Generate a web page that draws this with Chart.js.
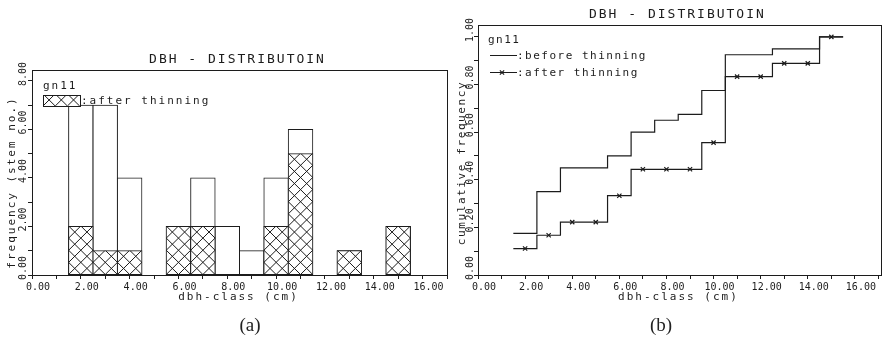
<!DOCTYPE html>
<html>
<head>
<meta charset="utf-8">
<title>DBH distribution</title>
<script src="https://cdn.jsdelivr.net/npm/chart.js@4.4.1/dist/chart.umd.min.js"></script>
<style>
  body { margin: 0; background: #fff; }
  #wrap { position: relative; width: 886px; height: 339px; }
  canvas { position: absolute; top: 0; }
  #chartA { left: 0; }
  #chartB { left: 443px; }
  .cap { position: absolute; top: 314px; font: 19px "Liberation Serif", serif; color: #222; transform: translateX(-50%); }
</style>
</head>
<body>
<div id="wrap">
  <canvas id="chartA" width="450" height="339"></canvas>
  <canvas id="chartB" width="443" height="339"></canvas>
  <div class="cap" style="left:250px">(a)</div>
  <div class="cap" style="left:661px">(b)</div>
</div>
<script>
// dbh classes (cm) and number of stems per class
const classes     = [2, 3, 4, 5, 6, 7, 8, 9, 10, 11, 12, 13, 14, 15];
const stemsBefore = [7, 7, 4, 0, 2, 4, 2, 1, 4, 6, 0, 1, 0, 2];
const stemsAfter  = [2, 1, 1, 0, 2, 2, 0, 0, 2, 5, 0, 1, 0, 2];
// cumulative frequency reached at the end of each class
const cumBefore = [0.175, 0.35, 0.45, 0.45, 0.50, 0.60, 0.65, 0.675, 0.775, 0.925, 0.925, 0.95, 0.95, 1.00];
const cumAfter  = [0.111, 0.167, 0.222, 0.222, 0.333, 0.444, 0.444, 0.444, 0.556, 0.833, 0.833, 0.889, 0.889, 1.00];
// ticks that carry a label
const xLabels  = [0, 2, 4, 6, 8, 10, 12, 14, 16];
const yLabelsA = [0, 2, 4, 6, 8];
const yLabelsB = [0, 0.2, 0.4, 0.6, 0.8, 1.0];

const INK = '#1c1c1c';
const MONO = '"DejaVu Sans Mono", monospace';
Chart.defaults.font.family = MONO;
Chart.defaults.color = INK;

function scaleOpts(max, step, labels, size, isY, pad) {
  return {
    type: 'linear', min: 0, max: max, offset: false,
    border: { display: false },
    grid: { drawOnChartArea: false, offset: false, tickLength: 4, color: INK, tickWidth: 1 },
    ticks: Object.assign({
      stepSize: step, autoSkip: false, includeBounds: false, color: INK, font: { size: 10 },
      callback: v => labels.some(l => Math.abs(l - v) < 1e-6) ? v.toFixed(2) : ''
    }, isY
      ? { minRotation: 90, maxRotation: 90, crossAlign: 'center', padding: pad, labelOffset: -7 }
      : { maxRotation: 0, padding: pad, labelOffset: 6 }),
    afterBuildTicks: s => {
      s.ticks = s.ticks.filter(t => Math.abs(t.value / step - Math.round(t.value / step)) < 1e-6);
    },
    afterFit: s => { if (isY) s.width = size; else s.height = size; }
  };
}

// cross hatching with the diamond size tied to half a unit on each axis
function hatch(ctx, left, top, right, bottom, pw, ph) {
  const rows = Math.ceil((bottom - top) / ph);
  const cols = Math.ceil((right - left) / pw);
  ctx.save();
  ctx.beginPath();
  ctx.rect(left, top, right - left, bottom - top);
  ctx.clip();
  ctx.beginPath();
  for (let k = -rows; k <= cols + rows; k++) {
    const x = left + k * pw;
    ctx.moveTo(x, bottom); ctx.lineTo(x + rows * pw, bottom - rows * ph);
    ctx.moveTo(x, bottom); ctx.lineTo(x - rows * pw, bottom - rows * ph);
  }
  ctx.strokeStyle = INK;
  ctx.lineWidth = 1;
  ctx.stroke();
  ctx.restore();
}

function halfUnits(chart) {
  const { x, y } = chart.scales;
  return [x.getPixelForValue(0.5) - x.getPixelForValue(0), y.getPixelForValue(0) - y.getPixelForValue(0.5)];
}

function crossMark(ctx, x, y, r) {
  const d = r * Math.SQRT1_2;
  ctx.beginPath();
  ctx.moveTo(x - d, y - d); ctx.lineTo(x + d, y + d);
  ctx.moveTo(x + d, y - d); ctx.lineTo(x - d, y + d);
  ctx.stroke();
}

// box round the plot area plus title and axis titles
const frame = {
  id: 'frame',
  beforeDatasetsDraw(chart) {
    const { ctx, chartArea: a } = chart;
    ctx.save();
    ctx.strokeStyle = INK;
    ctx.lineWidth = 1;
    ctx.strokeRect(Math.round(a.left) + 0.5, Math.round(a.top) + 0.5, Math.round(a.width), Math.round(a.height));
    ctx.restore();
  },
  afterDraw(chart, args, o) {
    const { ctx, chartArea: a } = chart;
    const mid = (a.left + a.right) / 2;
    ctx.save();
    ctx.fillStyle = INK;
    ctx.textAlign = 'center';
    ctx.textBaseline = 'alphabetic';
    ctx.font = '13px ' + MONO;
    ctx.letterSpacing = '2px';
    ctx.fillText(o.title, mid - 2, a.top - 7);
    ctx.font = '11px ' + MONO;
    ctx.fillText(o.xTitle, mid - 1, a.bottom + 25);
    ctx.letterSpacing = o.ySpacing;
    ctx.translate(o.yTitleX, (a.top + a.bottom) / 2 + o.yShift);
    ctx.rotate(-Math.PI / 2);
    ctx.fillText(o.yTitle, 0, 0);
    ctx.restore();
  }
};

const hatchBars = {
  id: 'hatchBars',
  afterDatasetDraw(chart, args) {
    if (args.index !== 0) return;
    const [pw, ph] = halfUnits(chart);
    args.meta.data.forEach(bar => {
      const { x, y, base, width } = bar.getProps(['x', 'y', 'base', 'width'], true);
      if (Math.abs(base - y) < 1) return;
      hatch(chart.ctx, x - width / 2, y, x + width / 2, base, pw, ph);
    });
  }
};

const legendA = {
  id: 'legendA',
  afterDraw(chart) {
    const { ctx, chartArea: a } = chart;
    const [pw, ph] = halfUnits(chart);
    const sx = Math.round(a.left) + 11, sy = Math.round(a.top) + 25;
    ctx.save();
    ctx.fillStyle = INK;
    ctx.font = '11px ' + MONO;
    ctx.letterSpacing = '2px';
    ctx.fillText('gn11', sx, a.top + 19);
    ctx.fillText(':after thinning', sx + 38, a.top + 34);
    ctx.fillStyle = '#fff';
    ctx.fillRect(sx, sy, 37, 11);
    hatch(ctx, sx, sy, sx + 37, sy + 11, pw, ph);
    ctx.strokeStyle = INK;
    ctx.lineWidth = 1;
    ctx.strokeRect(sx + 0.5, sy + 0.5, 37, 11);
    ctx.restore();
  }
};

const legendB = {
  id: 'legendB',
  afterDraw(chart) {
    const { ctx, chartArea: a } = chart;
    const lx = Math.round(a.left) + 12;
    const y1 = Math.round(a.top) + 30.5, y2 = Math.round(a.top) + 47.5;
    ctx.save();
    ctx.fillStyle = INK;
    ctx.strokeStyle = INK;
    ctx.lineWidth = 1.2;
    ctx.font = '11px ' + MONO;
    ctx.letterSpacing = '1.5px';
    ctx.fillText('gn11', lx - 2, a.top + 18);
    ctx.beginPath();
    ctx.moveTo(lx, y1); ctx.lineTo(lx + 27, y1);
    ctx.moveTo(lx, y2); ctx.lineTo(lx + 27, y2);
    ctx.stroke();
    crossMark(ctx, lx + 12, y2, 3);
    ctx.fillText(':before thinning', lx + 27, y1 + 3);
    ctx.fillText(':after thinning', lx + 27, y2 + 3);
    ctx.restore();
  }
};

// (a) stem numbers per class, before and after thinning
new Chart(document.getElementById('chartA'), {
  type: 'bar',
  data: {
    datasets: [
      {
        label: 'after thinning',
        data: classes.map((c, i) => ({ x: c, y: stemsAfter[i] })),
        backgroundColor: '#fff', borderColor: INK, borderWidth: 1,
        borderSkipped: false, inflateAmount: 0.5,
        grouped: false, barPercentage: 1, categoryPercentage: 1
      },
      {
        label: 'before thinning',
        data: classes.map((c, i) => ({ x: c, y: stemsBefore[i] })),
        backgroundColor: '#fff', borderColor: INK, borderWidth: 1,
        borderSkipped: false, inflateAmount: 0.5,
        grouped: false, barPercentage: 1, categoryPercentage: 1
      }
    ]
  },
  options: {
    responsive: false,
    animation: false,
    devicePixelRatio: 1,
    layout: { padding: { top: 70, right: 3, left: 0, bottom: 0 } },
    scales: {
      x: scaleOpts(17, 1, xLabels, 64, false, 2),
      y: scaleOpts(8.45, 1, yLabelsA, 32, true, -7)
    },
    plugins: {
      legend: { display: false },
      tooltip: { enabled: false },
      frame: {
        title: 'DBH - DISTRIBUTOIN', xTitle: 'dbh-class (cm)',
        yTitle: 'frequency (stem no.)', yTitleX: 15, yShift: 10, ySpacing: '2px'
      }
    }
  },
  plugins: [frame, hatchBars, legendA]
});

// (b) cumulative frequency as steps over the class widths
const steps = cum => classes.map((c, i) => ({ x: c - 0.5, y: cum[i] }))
  .concat({ x: classes[classes.length - 1] + 0.5, y: cum[cum.length - 1] });

new Chart(document.getElementById('chartB'), {
  type: 'line',
  data: {
    datasets: [
      {
        label: 'before thinning', data: steps(cumBefore), stepped: true,
        borderColor: INK, borderWidth: 1.2, pointRadius: 0, fill: false
      },
      {
        label: 'after thinning', data: steps(cumAfter), stepped: true,
        borderColor: INK, borderWidth: 1.2, pointRadius: 0, fill: false
      },
      {
        label: 'after thinning (class mid)', data: classes.map((c, i) => ({ x: c, y: cumAfter[i] })),
        showLine: false, pointStyle: 'crossRot', pointRadius: 3,
        pointBorderWidth: 1.2, pointBorderColor: INK
      }
    ]
  },
  options: {
    responsive: false,
    animation: false,
    devicePixelRatio: 1,
    layout: { padding: { top: 25, right: 5, left: 0, bottom: 0 } },
    scales: {
      x: scaleOpts(17.1, 1, xLabels, 64, false, 2),
      y: scaleOpts(1.05, 0.1, yLabelsB, 35, true, -8)
    },
    plugins: {
      legend: { display: false },
      tooltip: { enabled: false },
      frame: {
        title: 'DBH - DISTRIBUTOIN', xTitle: 'dbh-class (cm)',
        yTitle: 'cumulative frequency', yTitleX: 22, yShift: 13, ySpacing: '1.6px'
      }
    }
  },
  plugins: [frame, legendB]
});
</script>
</body>
</html>
